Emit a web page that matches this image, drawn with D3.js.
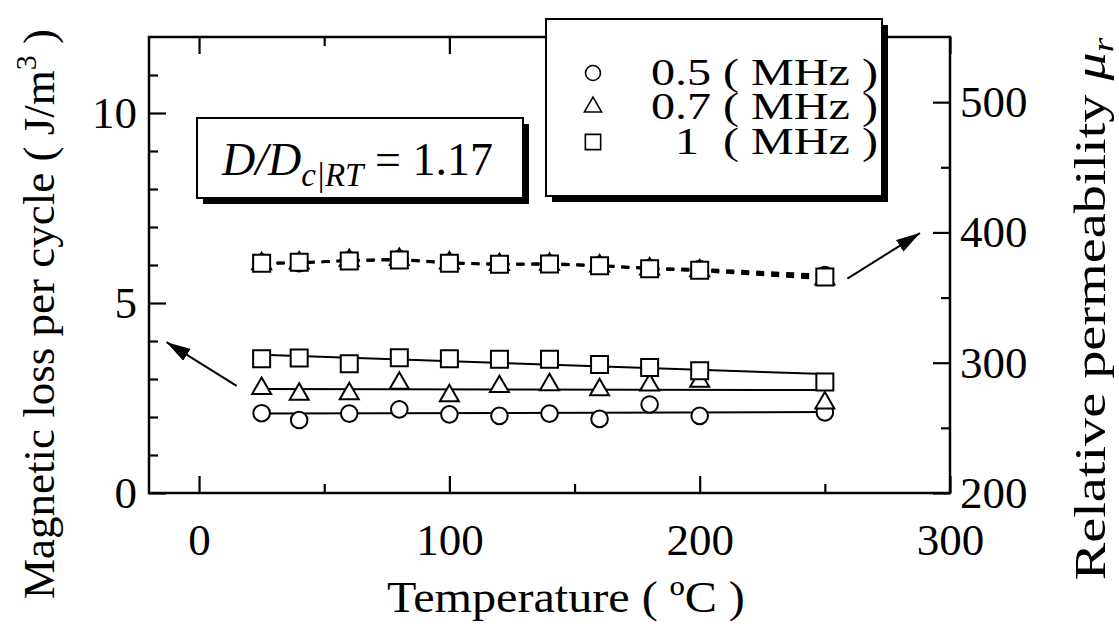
<!DOCTYPE html>
<html>
<head>
<meta charset="utf-8">
<script src="https://cdn.jsdelivr.net/npm/d3@7"></script>
<style>
  html, body { margin: 0; padding: 0; background: #fff; }
  svg { display: block; font-family: "Liberation Serif", "Times New Roman", serif; }
</style>
</head>
<body>
<svg id="chart" width="1119" height="626"></svg>
<script>
// Measurement temperatures (°C)
const temperatures = [25, 40, 60, 80, 100, 120, 140, 160, 180, 200, 250];
const frequencyLabels = ["0.5", "0.7", "1"];
const symbolNames = ["circle", "triangle", "square"];

// Magnetic loss per cycle (J/m^3), left axis
const loss05 = [2.10, 1.92, 2.09, 2.20, 2.07, 2.03, 2.09, 1.95, 2.33, 2.03, 2.12];
const loss07 = [2.75, 2.60, 2.61, 2.89, 2.56, 2.80, 2.85, 2.72, 2.84, 2.94, 2.37];
const loss10 = [3.53, 3.55, 3.40, 3.56, 3.53, 3.52, 3.52, 3.38, 3.30, 3.22, 2.92];

// Linear fits of the loss data, evaluated at the first and last temperature
const lossFitFirst = [2.09, 2.74, 3.64];
const lossFitLast = [2.13, 2.71, 3.13];

// Relative permeability, right axis
const perm05 = [376.8, 376.4, 378.6, 379.5, 376.8, 375.8, 376.2, 374.8, 372.6, 371.8, 367.3];
const perm07 = [376.0, 376.5, 378.5, 379.3, 376.5, 375.3, 375.5, 374.3, 372.0, 370.5, 364.2];
const perm10 = [376.3, 377.1, 378.1, 378.8, 376.3, 375.5, 375.8, 374.5, 372.2, 371.0, 365.8];

// Axis ticks
const tempMajorTicks = [0, 100, 200, 300];
const tempMinorTicks = [50, 150, 250];
const lossMajorTicks = [0, 5, 10];
const lossMinorTicks = [1, 2, 3, 4, 6, 7, 8, 9, 11];
const permMajorTicks = [200, 300, 400, 500];
const permMinorTicks = [250, 350, 450];

// Annotation arrows: [from, to] in data units
const lossArrow = [[15, 2.82], [-13, 3.97]];       // left axis units
const permArrow = [[259, 364.5], [288, 399.5]];    // right axis units

const plot = { left: 149, right: 950, top: 37, bottom: 493 };
const FONT = '"Liberation Serif", "Times New Roman", serif';

const svg = d3.select("#chart");

const x = d3.scaleLinear().domain([-20, 300]).range([plot.left, plot.right]);
const yL = d3.scaleLinear().domain([0, 12]).range([plot.bottom, plot.top]);
const yR = d3.scaleLinear().domain([200, 550]).range([plot.bottom, plot.top]);

// ---- axes (ticks pointing inward) ----
function addAxis(axis, tx, ty) {
  const g = svg.append("g").attr("transform", `translate(${tx},${ty})`).call(axis);
  g.attr("font-family", FONT).attr("font-size", 45);
  g.select(".domain").remove();
  g.selectAll(".tick line").attr("stroke", "#000").attr("stroke-width", 2.2);
  g.selectAll(".tick text").attr("fill", "#000");
  return g;
}
const noLabel = () => "";

addAxis(d3.axisBottom(x).tickValues(tempMajorTicks).tickSize(-17).tickPadding(30).tickFormat(d3.format("d")), 0, plot.bottom);
addAxis(d3.axisBottom(x).tickValues(tempMinorTicks).tickSize(-9).tickFormat(noLabel), 0, plot.bottom);
addAxis(d3.axisTop(x).tickValues(tempMajorTicks).tickSize(-17).tickFormat(noLabel), 0, plot.top);
addAxis(d3.axisTop(x).tickValues(tempMinorTicks).tickSize(-9).tickFormat(noLabel), 0, plot.top);

addAxis(d3.axisLeft(yL).tickValues(lossMajorTicks).tickSize(-17).tickPadding(12).tickFormat(d3.format("d")), plot.left, 0);
addAxis(d3.axisLeft(yL).tickValues(lossMinorTicks).tickSize(-9).tickFormat(noLabel), plot.left, 0);

addAxis(d3.axisRight(yR).tickValues(permMajorTicks).tickSize(-17).tickPadding(10).tickFormat(d3.format("d")), plot.right, 0);
addAxis(d3.axisRight(yR).tickValues(permMinorTicks).tickSize(-9).tickFormat(noLabel), plot.right, 0);

// frame
svg.append("rect")
  .attr("x", plot.left).attr("y", plot.top)
  .attr("width", plot.right - plot.left).attr("height", plot.bottom - plot.top)
  .attr("fill", "none").attr("stroke", "#000").attr("stroke-width", 2.5);

// ---- axis titles ----
svg.append("text")
  .attr("transform", "translate(566,612) scale(1.07,1)")
  .attr("text-anchor", "middle").attr("font-family", FONT).attr("font-size", 45)
  .text("Temperature ( ºC )");

const leftTitle = svg.append("text")
  .attr("transform", "translate(54,314) rotate(-90)")
  .attr("text-anchor", "middle").attr("font-family", FONT).attr("font-size", 45);
leftTitle.append("tspan").text("Magnetic loss per cycle ( J/m");
leftTitle.append("tspan").attr("font-size", 30).attr("dy", -18).text("3");
leftTitle.append("tspan").attr("dy", 18).text(" )");

const rightTitle = svg.append("text")
  .attr("transform", "translate(1105,309) rotate(-90) scale(1.25,1)")
  .attr("text-anchor", "middle").attr("font-family", FONT).attr("font-size", 45);
rightTitle.append("tspan").text("Relative permeability ");
rightTitle.append("tspan").attr("font-style", "italic").text("μ");
rightTitle.append("tspan").attr("font-style", "italic").attr("font-size", 30).attr("dy", 8).text("r");

// ---- series ----
const lossSeries = [loss05, loss07, loss10];
const permSeries = [perm05, perm07, perm10];

function symbolPath(name, s = 1) {
  if (name === "circle") return d3.symbol(d3.symbolCircle, Math.PI * Math.pow(8.3 * s, 2))();
  if (name === "triangle") return d3.symbol(d3.symbolTriangle, Math.sqrt(3) / 4 * Math.pow(19 * s, 2))();
  return d3.symbol(d3.symbolSquare, Math.pow(17 * s, 2))();
}

// dashed permeability curves
const permLine = d3.line().x((d, i) => x(temperatures[i])).y(d => yR(d));
permSeries.forEach(vals => {
  svg.append("path").attr("d", permLine(vals))
    .attr("fill", "none").attr("stroke", "#000").attr("stroke-width", 2.5)
    .attr("stroke-dasharray", "8,7");
});

// straight fit lines for the loss data
const tFirst = temperatures[0], tLast = temperatures[temperatures.length - 1];
lossFitFirst.forEach((v0, k) => {
  svg.append("line")
    .attr("x1", x(tFirst)).attr("y1", yL(v0))
    .attr("x2", x(tLast)).attr("y2", yL(lossFitLast[k]))
    .attr("stroke", "#000").attr("stroke-width", 2);
});

// markers
function drawMarkers(vals, scale, name) {
  svg.append("g").selectAll("path").data(vals).join("path")
    .attr("transform", (d, i) => `translate(${x(temperatures[i])},${scale(d)})`)
    .attr("d", symbolPath(name))
    .attr("fill", "#fff").attr("stroke", "#000").attr("stroke-width", 2);
}
permSeries.forEach((vals, k) => drawMarkers(vals, yR, symbolNames[k]));
lossSeries.forEach((vals, k) => drawMarkers(vals, yL, symbolNames[k]));

// ---- arrows ----
svg.append("defs").append("marker").attr("id", "head")
  .attr("viewBox", "0 0 24 14").attr("refX", 24).attr("refY", 7)
  .attr("markerWidth", 24).attr("markerHeight", 14)
  .attr("markerUnits", "userSpaceOnUse").attr("orient", "auto")
  .append("path").attr("d", "M0,0 L24,7 L0,14 Z").attr("fill", "#000");

function arrow(a, scale) {
  svg.append("line")
    .attr("x1", x(a[0][0])).attr("y1", scale(a[0][1]))
    .attr("x2", x(a[1][0])).attr("y2", scale(a[1][1]))
    .attr("stroke", "#000").attr("stroke-width", 2).attr("marker-end", "url(#head)");
}
arrow(lossArrow, yL);
arrow(permArrow, yR);

// ---- boxes with drop shadow ----
function shadowBox(bx, by, bw, bh) {
  svg.append("rect").attr("x", bx + 6).attr("y", by + 6).attr("width", bw).attr("height", bh).attr("fill", "#000");
  svg.append("rect").attr("x", bx).attr("y", by).attr("width", bw).attr("height", bh)
    .attr("fill", "#fff").attr("stroke", "#000").attr("stroke-width", 2);
}

shadowBox(197, 118, 326, 80);
const ratio = svg.append("text").attr("x", 222).attr("y", 175)
  .attr("font-family", FONT).attr("font-size", 46);
ratio.append("tspan").attr("font-style", "italic").text("D/D");
ratio.append("tspan").attr("font-style", "italic").attr("font-size", 33).attr("dy", 11).text("c|RT");
ratio.append("tspan").attr("dy", -11).text(" = 1.17");

// legend: symbols plus one multi-line text block
shadowBox(546, 19, 336, 177);
const legendRows = [73, 107, 142];
frequencyLabels.forEach((f, k) => {
  svg.append("path")
    .attr("transform", `translate(593,${legendRows[k]})`)
    .attr("d", symbolPath(symbolNames[k], 0.9))
    .attr("fill", "#fff").attr("stroke", "#000").attr("stroke-width", 1.6);
});
svg.append("text")
  .attr("transform", "translate(878,0) scale(1.3,1)")
  .attr("text-anchor", "end").attr("font-family", FONT).attr("font-size", 37)
  .style("white-space", "pre")
  .selectAll("tspan").data(frequencyLabels).join("tspan")
  .attr("x", 0).attr("y", (f, k) => legendRows[k] + 12)
  .text((f, k) => k === 2 ? `${f}  ( MHz )` : `${f} ( MHz )`);
</script>
</body>
</html>
